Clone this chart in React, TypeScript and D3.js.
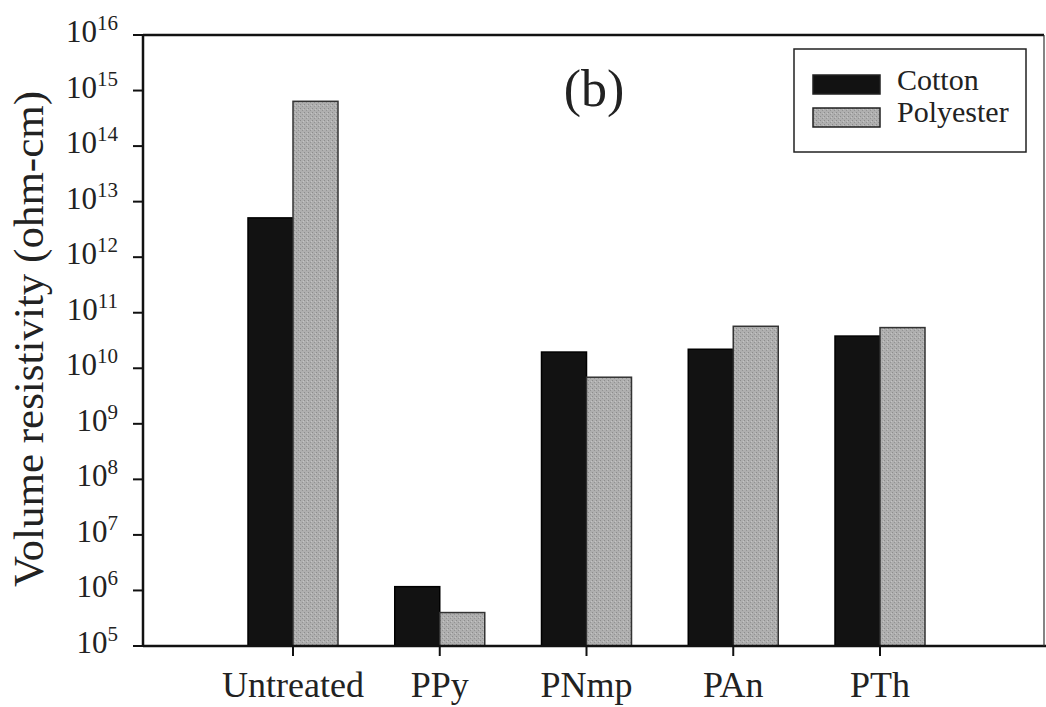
import React from 'react';
import * as d3 from 'd3';

const categories = ['Untreated', 'PPy', 'PNmp', 'PAn', 'PTh'];
const cotton = [5.1e12, 1.17e6, 1.96e10, 2.2e10, 3.8e10];
const polyester = [6.4e14, 4.0e5, 6.9e9, 5.7e10, 5.4e10];
const tickExponents = [5, 6, 7, 8, 9, 10, 11, 12, 13, 14, 15, 16];
const seriesNames = ['Cotton', 'Polyester'];

const W = 1046;
const H = 707;
const left = 143;
const right = 1044;
const top = 35;
const bottom = 646;
const serif = { fontFamily: "'Liberation Serif'" };

const App = () => {
  const y = d3.scaleLog().domain([1e5, 1e16]).range([bottom, top]);
  const x = d3.scalePoint().domain(categories).range([293, 880]);
  const barW = 45;

  // polyester is a stippled gray in the original print
  const colors = ['#121212', 'url(#stipple)'];
  const series = [cotton, polyester];

  return (
    <svg width={W} height={H} style={{ position: 'absolute', left: 0, top: 0, background: '#fff' }}>
      <defs>
        <pattern id="stipple" width={4} height={4} patternUnits="userSpaceOnUse">
          <rect width={4} height={4} fill="#afafaf" />
          <rect x={0} y={0} width={1} height={1} fill="#8c8c8c" />
          <rect x={2} y={2} width={1} height={1} fill="#939393" />
          <rect x={3} y={1} width={1} height={1} fill="#c4c4c4" />
        </pattern>
      </defs>

      {/* bars */}
      {categories.map((c, i) => (
        <g key={c}>
          {series.map((s, j) => (
            <rect
              key={j}
              x={(x(c) as number) + (j === 0 ? -barW : 0)}
              y={y(s[i])}
              width={barW}
              height={bottom - y(s[i])}
              fill={colors[j]}
              stroke={j === 0 ? '#000' : '#333'}
              strokeWidth={1.5}
            />
          ))}
        </g>
      ))}

      {/* frame */}
      <line x1={left} x2={left} y1={top} y2={bottom} stroke="#111" strokeWidth={2.5} />
      <line x1={left} x2={right} y1={top} y2={top} stroke="#111" strokeWidth={2.5} />
      <line x1={left} x2={right + 2} y1={bottom} y2={bottom} stroke="#111" strokeWidth={2.5} />
      <line x1={right} x2={right} y1={top} y2={bottom} stroke="#333" strokeWidth={1.2} />

      {/* y ticks */}
      {tickExponents.map(e => (
        <g key={e}>
          <line x1={left - 10} x2={left} y1={y(Math.pow(10, e))} y2={y(Math.pow(10, e))} stroke="#111" strokeWidth={2} />
          <text x={118} y={y(Math.pow(10, e)) + 7} textAnchor="end" fontSize={31} fill="#222" style={serif}>
            10<tspan fontSize={21} dy={-12}>{e}</tspan>
          </text>
        </g>
      ))}

      {/* x ticks */}
      {categories.map(c => (
        <g key={c}>
          <line x1={x(c)} x2={x(c)} y1={bottom} y2={bottom + 10} stroke="#111" strokeWidth={2} />
          <text x={x(c)} y={697} textAnchor="middle" fontSize={36} fill="#222" style={serif}>
            {c}
          </text>
        </g>
      ))}

      {/* y label */}
      <text transform="translate(43,339) rotate(-90)" textAnchor="middle" fontSize={43} fill="#222" style={serif}>
        Volume resistivity (ohm-cm)
      </text>

      {/* panel label */}
      <text x={594} y={106} textAnchor="middle" fontSize={52} fill="#222" style={serif}>
        (b)
      </text>

      {/* legend */}
      <rect x={794} y={49} width={232} height={103} fill="#fff" stroke="#222" strokeWidth={1.5} />
      {seriesNames.map((n, j) => (
        <g key={n}>
          <rect x={813} y={j === 0 ? 75 : 108} width={67} height={19} fill={colors[j]} stroke="#222" strokeWidth={1.5} />
          <text x={897} y={j === 0 ? 90 : 122} fontSize={30} fill="#222" style={serif}>
            {n}
          </text>
        </g>
      ))}
    </svg>
  );
};

export default App;
